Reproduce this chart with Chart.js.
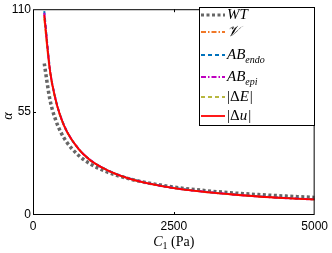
<!DOCTYPE html>
<html>
<head>
<meta charset="utf-8">
<script src="https://cdn.jsdelivr.net/npm/chart.js@4/dist/chart.umd.min.js"></script>
<style>
  html, body { margin: 0; padding: 0; background: #fff; }
  #wrap { width: 332px; height: 253px; }
</style>
</head>
<body>
<div id="wrap"><canvas id="alphachart" width="332" height="253"></canvas></div>
<script>
// C1 values (Pa)
const c1 = [200, 300, 400, 500, 600, 800, 1000, 1250, 1500, 1750, 2000, 2500, 3000, 3500, 4000, 4500, 5000];

const wtVal    = [81, 61.8, 51.0, 43.9, 38.9, 32.1, 27.6, 23.8, 21.1, 19.0, 17.4, 14.9, 13.2, 11.9, 10.9, 10.1, 9.4];
const vVal     = [105, 77.0, 61.5, 51.5, 44.6, 35.6, 29.7, 25.0, 21.6, 19.1, 17.2, 14.4, 12.5, 11.1, 9.9, 9.0, 8.3];
const endoVal  = [109, 78.2, 62.1, 51.9, 44.8, 35.7, 29.8, 25.1, 21.7, 19.2, 17.3, 14.5, 12.6, 11.2, 10.0, 9.1, 8.4];
const epiVal   = [108, 77.9, 62.0, 51.8, 44.8, 35.7, 29.8, 25.0, 21.6, 19.1, 17.2, 14.4, 12.5, 11.1, 9.9, 9.0, 8.3];
const dEVal    = [106, 77.3, 61.6, 51.6, 44.6, 35.6, 29.7, 25.0, 21.6, 19.1, 17.2, 14.4, 12.5, 11.1, 9.9, 9.0, 8.3];
const duVal    = [107, 77.6, 61.8, 51.7, 44.7, 35.6, 29.7, 25.0, 21.6, 19.1, 17.2, 14.4, 12.5, 11.1, 9.9, 9.0, 8.3];

const xTicks = [0, 2500, 5000];
const yTicks = [0, 55, 110];

// legend text pieces: [main, subscript]
const legendNames = [["WT", ""], ["\u{1D4B1}", ""], ["AB", "endo"], ["AB", "epi"], ["|\u0394E|", ""], ["|\u0394u|", ""]];

const pts = arr => arr.map((v, i) => ({ x: c1[i], y: v }));

const series = [
  { data: wtVal,   color: "#666666", width: 3.5, dash: [3, 2.5], order: 5 },
  { data: vVal,    color: "#f07828", width: 2,   dash: [5, 2, 1.5, 2], order: 4 },
  { data: endoVal, color: "#0072bd", width: 2,   dash: [4, 3], order: 3 },
  { data: epiVal,  color: "#c000c0", width: 2,   dash: [5, 2, 1.5, 2], order: 2 },
  { data: dEVal,   color: "#a0a000", width: 1.5, dash: [4, 3], order: 1 },
  { data: duVal,   color: "#ff0000", width: 1.8, dash: [], order: 0 }
];

const extras = {
  id: "extras",
  afterDraw(chart) {
    const ctx = chart.ctx;
    const a = chart.chartArea;
    const xs = chart.scales.x, ys = chart.scales.y;
    ctx.save();
    // box round the axes
    ctx.strokeStyle = "#000";
    ctx.lineWidth = 1;
    ctx.strokeRect(a.left + 0.5, a.top + 0.5, a.right - a.left - 1, a.bottom - a.top - 1);
    // inward tick marks
    xTicks.slice(1, -1).forEach(t => {
      const px = Math.round(xs.getPixelForValue(t)) + 0.5;
      ctx.beginPath();
      ctx.moveTo(px, a.bottom); ctx.lineTo(px, a.bottom - 3);
      ctx.moveTo(px, a.top); ctx.lineTo(px, a.top + 3);
      ctx.stroke();
    });
    yTicks.slice(1, -1).forEach(t => {
      const py = Math.round(ys.getPixelForValue(t)) + 0.5;
      ctx.beginPath();
      ctx.moveTo(a.left, py); ctx.lineTo(a.left + 3, py);
      ctx.moveTo(a.right, py); ctx.lineTo(a.right - 3, py);
      ctx.stroke();
    });

    // axis titles
    ctx.fillStyle = "#000";
    ctx.textBaseline = "alphabetic";
    ctx.font = "italic 14px 'Liberation Serif'";
    const cW = ctx.measureText("C").width;
    ctx.font = "10px 'Liberation Serif'";
    const oneW = ctx.measureText("1").width;
    ctx.font = "14px 'Liberation Serif'";
    const paW = ctx.measureText(" (Pa)").width;
    let tx = (a.left + a.right) / 2 - (cW + oneW + paW) / 2;
    const ty = 246;
    ctx.font = "italic 14px 'Liberation Serif'";
    ctx.fillText("C", tx, ty); tx += cW;
    ctx.font = "10px 'Liberation Serif'";
    ctx.fillText("1", tx, ty + 3); tx += oneW;
    ctx.font = "14px 'Liberation Serif'";
    ctx.fillText(" (Pa)", tx, ty);

    ctx.save();
    ctx.translate(12, (a.top + a.bottom) / 2 + 4);
    ctx.rotate(-Math.PI / 2);
    ctx.textAlign = "center";
    ctx.font = "italic 14px 'Liberation Serif'";
    ctx.fillText("\u03B1", 0, 0);
    ctx.restore();

    // legend box
    const lx = 199, ly = 7, lw = 115, lh = 118;
    ctx.fillStyle = "#fff";
    ctx.fillRect(lx, ly, lw, lh);
    ctx.strokeStyle = "#000";
    ctx.strokeRect(lx + 0.5, ly + 0.5, lw, lh);
    const rows = [15, 32, 55, 77, 97, 116];
    series.forEach((s, i) => {
      const yy = rows[i];
      ctx.strokeStyle = s.color;
      ctx.lineWidth = Math.min(s.width, 3);
      ctx.setLineDash(s.dash);
      ctx.beginPath();
      ctx.moveTo(201, yy); ctx.lineTo(225, yy);
      ctx.stroke();
      ctx.setLineDash([]);
      const [main, sub] = legendNames[i];
      ctx.fillStyle = "#000";
      ctx.textBaseline = "middle";
      if (main.startsWith("|")) {
        // |ΔE| with italic letter
        let x0 = 227;
        ctx.font = "15px 'Liberation Serif'";
        ctx.fillText("|\u0394", x0, yy); x0 += ctx.measureText("|\u0394").width;
        ctx.font = "italic 15px 'Liberation Serif'";
        const ch = main.charAt(2);
        ctx.fillText(ch, x0, yy); x0 += ctx.measureText(ch).width + 1;
        ctx.font = "15px 'Liberation Serif'";
        ctx.fillText("|", x0, yy);
      } else {
        ctx.font = "italic 15px 'Liberation Serif'";
        ctx.fillText(main, 227, yy);
        if (sub) {
          const w = ctx.measureText(main).width;
          ctx.font = "italic 10px 'Liberation Serif'";
          ctx.fillText(sub, 227 + w, yy + 5);
        }
      }
    });
    ctx.restore();
  }
};

new Chart("alphachart", {
  type: "line",
  data: {
    datasets: series.map(s => ({
      data: pts(s.data),
      borderColor: s.color,
      borderWidth: s.width,
      borderDash: s.dash,
      pointRadius: 0,
      tension: 0.4,
      cubicInterpolationMode: "monotone",
      fill: false,
      order: s.order
    }))
  },
  options: {
    responsive: false,
    animation: false,
    layout: { padding: { left: 0, right: 15, top: 4, bottom: 0 }, autoPadding: false },
    plugins: { legend: { display: false }, tooltip: { enabled: false } },
    scales: {
      x: {
        type: "linear",
        min: 0, max: 5000,
        afterBuildTicks: sc => { sc.ticks = xTicks.map(v => ({ value: v })); },
        afterFit: sc => { sc.height = 38; },
        grid: { display: false, drawTicks: false },
        border: { display: false },
        ticks: { color: "#000", font: { family: "'Liberation Sans'", size: 12 }, padding: 4, maxRotation: 0, callback: v => String(v) }
      },
      y: {
        min: 0, max: 110,
        afterBuildTicks: sc => { sc.ticks = yTicks.map(v => ({ value: v })); },
        afterFit: sc => { sc.width = 33; },
        grid: { display: false, drawTicks: false },
        border: { display: false },
        ticks: { color: "#000", font: { family: "'Liberation Sans'", size: 12 }, padding: 2, callback: v => String(v) }
      }
    }
  },
  plugins: [extras]
});
</script>
</body>
</html>
